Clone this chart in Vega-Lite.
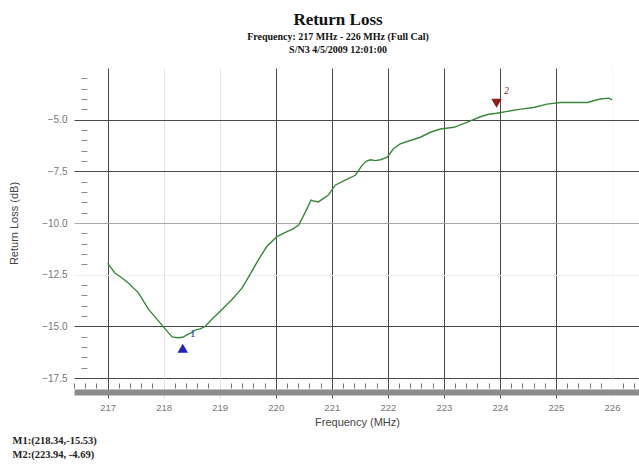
{
  "$schema": "https://vega.github.io/schema/vega-lite/v6.json",
  "autosize": {"type": "none"},
  "padding": {"left": 74, "top": 68, "right": 0, "bottom": 90},
  "width": 566,
  "height": 310,
  "background": "white",
  "config": {"view": {"stroke": null}},
  "title": {
    "text": "Return Loss",
    "subtitle": ["Frequency: 217 MHz - 226 MHz (Full Cal)", "S/N3 4/5/2009 12:01:00"],
    "font": "Liberation Serif",
    "fontSize": 17,
    "fontWeight": "bold",
    "color": "#111",
    "subtitleFont": "Liberation Serif",
    "subtitleFontSize": 10,
    "subtitleFontWeight": "bold",
    "subtitleColor": "#111",
    "subtitlePadding": 3,
    "subtitleLineHeight": 13,
    "anchor": "middle",
    "dx": -19,
    "offset": 12
  },
  "datasets": {
    "trace": [
      {"freq": 217.00, "rl": -11.95}, {"freq": 217.13, "rl": -12.42}, {"freq": 217.25, "rl": -12.65},
      {"freq": 217.37, "rl": -12.90}, {"freq": 217.55, "rl": -13.38}, {"freq": 217.73, "rl": -14.18},
      {"freq": 217.91, "rl": -14.75}, {"freq": 218.06, "rl": -15.23}, {"freq": 218.15, "rl": -15.51},
      {"freq": 218.25, "rl": -15.55}, {"freq": 218.34, "rl": -15.53}, {"freq": 218.44, "rl": -15.38},
      {"freq": 218.50, "rl": -15.30}, {"freq": 218.56, "rl": -15.18}, {"freq": 218.65, "rl": -15.12},
      {"freq": 218.74, "rl": -15.01}, {"freq": 218.86, "rl": -14.66}, {"freq": 219.04, "rl": -14.18},
      {"freq": 219.22, "rl": -13.70}, {"freq": 219.40, "rl": -13.14}, {"freq": 219.54, "rl": -12.50},
      {"freq": 219.69, "rl": -11.78}, {"freq": 219.84, "rl": -11.14}, {"freq": 220.02, "rl": -10.66},
      {"freq": 220.20, "rl": -10.42}, {"freq": 220.30, "rl": -10.30}, {"freq": 220.41, "rl": -10.10},
      {"freq": 220.53, "rl": -9.46}, {"freq": 220.63, "rl": -8.89}, {"freq": 220.70, "rl": -8.95},
      {"freq": 220.76, "rl": -8.98}, {"freq": 220.94, "rl": -8.65}, {"freq": 221.06, "rl": -8.17},
      {"freq": 221.24, "rl": -7.93}, {"freq": 221.42, "rl": -7.69}, {"freq": 221.54, "rl": -7.21},
      {"freq": 221.62, "rl": -7.00}, {"freq": 221.69, "rl": -6.94}, {"freq": 221.78, "rl": -6.98},
      {"freq": 221.87, "rl": -6.94}, {"freq": 221.99, "rl": -6.81}, {"freq": 222.10, "rl": -6.41},
      {"freq": 222.22, "rl": -6.17}, {"freq": 222.40, "rl": -6.01}, {"freq": 222.58, "rl": -5.85},
      {"freq": 222.76, "rl": -5.61}, {"freq": 222.94, "rl": -5.45}, {"freq": 223.18, "rl": -5.37},
      {"freq": 223.41, "rl": -5.13}, {"freq": 223.65, "rl": -4.86}, {"freq": 223.80, "rl": -4.74},
      {"freq": 223.94, "rl": -4.69}, {"freq": 224.13, "rl": -4.60}, {"freq": 224.37, "rl": -4.49},
      {"freq": 224.60, "rl": -4.41}, {"freq": 224.84, "rl": -4.25}, {"freq": 225.08, "rl": -4.17},
      {"freq": 225.32, "rl": -4.17}, {"freq": 225.56, "rl": -4.17}, {"freq": 225.79, "rl": -4.00},
      {"freq": 225.94, "rl": -3.96}, {"freq": 226.00, "rl": -4.04}
    ],
    "markers": [
      {"marker": "M1", "n": "1", "freq": 218.34, "rl": -15.53},
      {"marker": "M2", "n": "2", "freq": 223.94, "rl": -4.69}
    ]
  },
  "resolve": {"axis": {"x": "independent", "y": "independent"}},
  "layer": [
    {
      "data": {"name": "trace"},
      "mark": {"type": "line", "color": "#3a873a", "strokeWidth": 1.4, "interpolate": "linear"},
      "encoding": {
        "x": {
          "field": "freq", "type": "quantitative",
          "scale": {"domain": [216.4, 226.5], "nice": false, "zero": false},
          "axis": {
            "orient": "bottom",
            "values": [217, 218, 219, 220, 221, 222, 223, 224, 225, 226],
            "format": "d",
            "domain": false,
            "grid": true,
            "gridWidth": 1,
            "gridColor": {"condition": [{"test": "datum.value == 218 || datum.value == 219", "value": "#e4e4e4"}, {"test": "datum.value == 226", "value": "#f6f6f6"}], "value": "#4a4a4a"},
            "ticks": true,
            "tickSize": 20,
            "tickColor": {"condition": [{"test": "datum.value == 218 || datum.value == 219", "value": "#e4e4e4"}, {"test": "datum.value == 226", "value": "#f6f6f6"}], "value": "#4a4a4a"},
            "labelFont": "Liberation Sans",
            "labelFontSize": 9.5,
            "labelColor": "#777",
            "labelPadding": 4,
            "title": "Frequency (MHz)",
            "titleFont": "Liberation Sans",
            "titleFontSize": 11,
            "titleFontWeight": "normal",
            "titleColor": "#444",
            "titlePadding": 5
          }
        },
        "y": {
          "field": "rl", "type": "quantitative",
          "scale": {"domain": [-17.5, -2.5], "nice": false, "zero": false},
          "axis": {
            "orient": "left",
            "values": [-17.5, -15, -12.5, -10, -7.5, -5],
            "format": ".1f",
            "domain": false,
            "ticks": false,
            "grid": true,
            "gridWidth": 1,
            "gridColor": {"condition": [{"test": "datum.value == -10", "value": "#a8a8a8"}, {"test": "datum.value == -12.5", "value": "#f0f0f0"}], "value": "#4a4a4a"},
            "labelFont": "Liberation Sans",
            "labelFontSize": 10,
            "labelColor": "#777",
            "labelPadding": 7,
            "title": "Return Loss (dB)",
            "titleFont": "Liberation Sans",
            "titleFontSize": 11,
            "titleFontWeight": "normal",
            "titleColor": "#444",
            "titlePadding": 22
          }
        }
      }
    },
    {
      "data": {"name": "trace"},
      "mark": {"type": "point", "opacity": 0},
      "encoding": {
        "x": {
          "field": "freq", "type": "quantitative",
          "scale": {"domain": [216.4, 226.5], "nice": false, "zero": false},
          "axis": {
            "orient": "bottom",
            "offset": 5,
            "values": [216.4, 216.6, 216.8, 217.2, 217.4, 217.6, 217.8, 218.2, 218.4, 218.6, 218.8, 219.2, 219.4, 219.6, 219.8, 220.2, 220.4, 220.6, 220.8, 221.2, 221.4, 221.6, 221.8, 222.2, 222.4, 222.6, 222.8, 223.2, 223.4, 223.6, 223.8, 224.2, 224.4, 224.6, 224.8, 225.2, 225.4, 225.6, 225.8, 226.2, 226.4],
            "domain": false,
            "grid": false,
            "labels": false,
            "ticks": true,
            "tickSize": 5,
            "tickColor": "#777",
            "title": null
          }
        },
        "y": {
          "field": "rl", "type": "quantitative",
          "scale": {"domain": [-17.5, -2.5], "nice": false, "zero": false},
          "axis": {
            "orient": "left",
            "offset": -13,
            "values": [-17, -16.5, -16, -15.5, -14.5, -14, -13.5, -13, -12, -11.5, -11, -10.5, -9.5, -9, -8.5, -8, -7, -6.5, -6, -5.5, -4.5, -4, -3.5, -3],
            "domain": false,
            "grid": false,
            "labels": false,
            "ticks": true,
            "tickSize": 6,
            "tickColor": "#8a8a8a",
            "title": null
          }
        }
      }
    },
    {
      "data": {"name": "trace"},
      "mark": {"type": "point", "opacity": 0},
      "encoding": {
        "x": {
          "field": "freq", "type": "quantitative",
          "scale": {"domain": [216.4, 226.5], "nice": false, "zero": false},
          "axis": {
            "orient": "bottom",
            "offset": 14,
            "domain": true,
            "domainColor": "#8c8c8c",
            "domainWidth": 6,
            "grid": false,
            "labels": false,
            "ticks": false,
            "title": ["M1:(218.34,-15.53)", "M2:(223.94,  -4.69)"],
            "titleFont": "Liberation Serif",
            "titleFontSize": 10.5,
            "titleFontWeight": "bold",
            "titleColor": "#222",
            "titleAnchor": "start",
            "titleAlign": "left",
            "titleBaseline": "top",
            "titleLineHeight": 14,
            "titleX": -62,
            "titleY": 43
          }
        },
        "y": {
          "field": "rl", "type": "quantitative",
          "scale": {"domain": [-17.5, -2.5], "nice": false, "zero": false},
          "axis": null
        }
      }
    },
    {
      "data": {"name": "markers"},
      "transform": [{"filter": "datum.marker == 'M1'"}],
      "mark": {"type": "point", "shape": "triangle-up", "filled": true, "size": 110, "color": "#1c22c4", "opacity": 1, "yOffset": 11},
      "encoding": {
        "x": {"field": "freq", "type": "quantitative", "scale": {"domain": [216.4, 226.5], "nice": false, "zero": false}, "axis": null},
        "y": {"field": "rl", "type": "quantitative", "scale": {"domain": [-17.5, -2.5], "nice": false, "zero": false}, "axis": null}
      }
    },
    {
      "data": {"name": "markers"},
      "transform": [{"filter": "datum.marker == 'M1'"}],
      "mark": {"type": "text", "font": "Liberation Serif", "fontSize": 11, "color": "#2a3a8a", "dx": 10, "dy": -3},
      "encoding": {
        "x": {"field": "freq", "type": "quantitative", "scale": {"domain": [216.4, 226.5], "nice": false, "zero": false}, "axis": null},
        "y": {"field": "rl", "type": "quantitative", "scale": {"domain": [-17.5, -2.5], "nice": false, "zero": false}, "axis": null},
        "text": {"field": "n"}
      }
    },
    {
      "data": {"name": "markers"},
      "transform": [{"filter": "datum.marker == 'M2'"}],
      "mark": {"type": "point", "shape": "triangle-down", "filled": true, "size": 110, "color": "#8e1c1c", "opacity": 1, "yOffset": -10},
      "encoding": {
        "x": {"field": "freq", "type": "quantitative", "scale": {"domain": [216.4, 226.5], "nice": false, "zero": false}, "axis": null},
        "y": {"field": "rl", "type": "quantitative", "scale": {"domain": [-17.5, -2.5], "nice": false, "zero": false}, "axis": null}
      }
    },
    {
      "data": {"name": "markers"},
      "transform": [{"filter": "datum.marker == 'M2'"}],
      "mark": {"type": "text", "font": "Liberation Serif", "fontSize": 10, "fontStyle": "italic", "color": "#8e1c1c", "dx": 10, "dy": -22},
      "encoding": {
        "x": {"field": "freq", "type": "quantitative", "scale": {"domain": [216.4, 226.5], "nice": false, "zero": false}, "axis": null},
        "y": {"field": "rl", "type": "quantitative", "scale": {"domain": [-17.5, -2.5], "nice": false, "zero": false}, "axis": null},
        "text": {"field": "n"}
      }
    }
  ]
}
